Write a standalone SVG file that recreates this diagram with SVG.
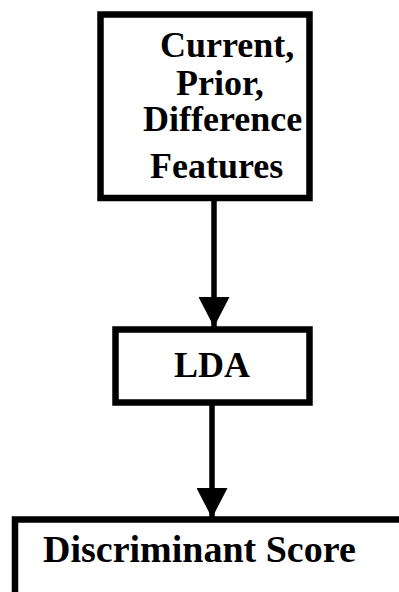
<svg xmlns="http://www.w3.org/2000/svg" width="399" height="592" viewBox="0 0 399 592">
  <style>
    .box { fill: #ffffff; stroke: #000000; stroke-width: 6.5; }
    .wire { stroke: #000000; stroke-width: 5.5; fill: none; }
  </style>
  <defs>
    <marker id="head" viewBox="0 0 30 31" refX="30" refY="15.5" markerWidth="30" markerHeight="31" markerUnits="userSpaceOnUse" orient="auto">
      <path d="M0,0 L30,15.5 L0,31 Z" fill="#000000"/>
    </marker>
  </defs>
  <rect width="399" height="592" fill="#ffffff"/>

  <g id="connectors">
    <line class="wire" x1="214" y1="200" x2="214" y2="327" marker-end="url(#head)"/>
    <line class="wire" x1="212" y1="405" x2="212" y2="518" marker-end="url(#head)"/>
  </g>

  <g id="features">
    <rect class="box" x="100.5" y="14.5" width="209" height="183.5"/>
    <text font-family="'Liberation Serif', serif" font-weight="bold" font-size="36" x="160" y="57">Current,</text>
    <text font-family="'Liberation Serif', serif" font-weight="bold" font-size="36" x="176" y="95">Prior,</text>
    <text font-family="'Liberation Serif', serif" font-weight="bold" font-size="36" x="143" y="131">Difference</text>
    <text font-family="'Liberation Serif', serif" font-weight="bold" font-size="36" x="150" y="178">Features</text>
  </g>

  <g id="lda">
    <rect class="box" x="115.5" y="329.5" width="194" height="73"/>
    <text font-family="'Liberation Serif', serif" font-weight="bold" font-size="36" x="174" y="377">LDA</text>
  </g>

  <g id="score">
    <rect class="box" x="15" y="519.5" width="400" height="90"/>
    <text font-family="'Liberation Serif', serif" font-weight="bold" font-size="38" x="43" y="562">Discriminant Score</text>
  </g>
</svg>
